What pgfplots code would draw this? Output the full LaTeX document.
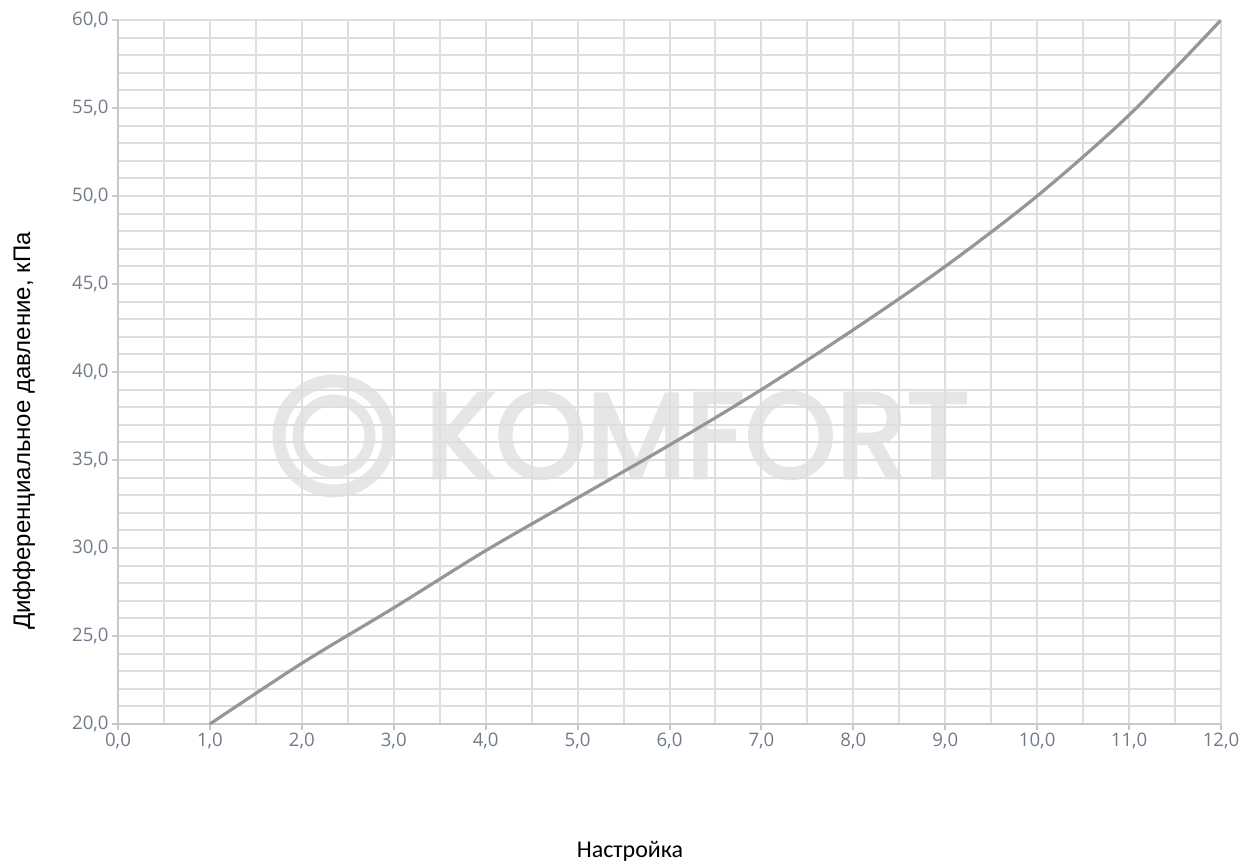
\documentclass[border=0pt]{standalone}
\usepackage{fontspec}
\usepackage{pgfplots}
\pgfplotsset{compat=1.18}
\setmainfont{Liberation Sans}
\newfontfamily\tickfont{Open Sans}
\newfontfamily\labfont{Carlito}
\newfontfamily\markfont{Poppins}
\definecolor{gridc}{RGB}{222,222,222}
\definecolor{axisc}{RGB}{200,200,200}
\definecolor{tickc}{RGB}{112,122,138}
\definecolor{curvec}{RGB}{150,150,150}
\definecolor{wmc}{RGB}{230,230,230}
\begin{document}
\begin{tikzpicture}
\path[use as bounding box] (-59pt,-69.5pt) rectangle (564pt,362pt);
% watermark (background)
\draw[wmc, line width=6.5pt] (108pt,144pt) circle (27.5pt);
\draw[wmc, line width=5.5pt] (108pt,144pt) circle (18pt);
\node[text=wmc, inner sep=0pt] at (289.75pt,144.25pt) {\resizebox{272pt}{42.5pt}{\markfont\addfontfeature{FakeBold=3} KOMFORT}};
\begin{axis}[
  at={(0pt,0pt)}, anchor=south west,
  scale only axis, width=551.5pt, height=352pt,
  xmin=0, xmax=12, ymin=20, ymax=60,
  xtick={0,1,...,12}, ytick={20,25,...,60},
  minor x tick num=1, minor y tick num=4,
  grid=both,
  major grid style={gridc, line width=1pt},
  minor grid style={gridc, line width=1pt},
  axis lines=left,
  axis line style={-, axisc, line width=1.2pt},
  tick align=outside, major tick length=3pt, minor tick length=0pt,
  tick style={axisc, line width=1pt},
  ticklabel style={font=\tickfont\fontsize{9.3}{11}\selectfont, text=tickc, inner sep=1.5pt},
  /pgf/number format/.cd, use comma, fixed, fixed zerofill, precision=1, assume math mode=true,
]
\addplot[curvec, line width=1.6pt, smooth, no markers] coordinates {
 (1,20) (2,23.45) (3,26.6) (4,29.85) (5,32.85) (6,35.85) (7,39.0) (8,42.4) (9,46.0) (10,50.0) (11,54.6) (12,60.0)
};
\end{axis}
\node[rotate=90, font=\fontsize{12}{14}\selectfont] at (-47pt,146.5pt) {Дифференциальное давление, кПа};
\node[font=\labfont\fontsize{12}{14}\selectfont, anchor=base] at (256pt,-66.65pt) {Настройка};
\end{tikzpicture}
\end{document}
